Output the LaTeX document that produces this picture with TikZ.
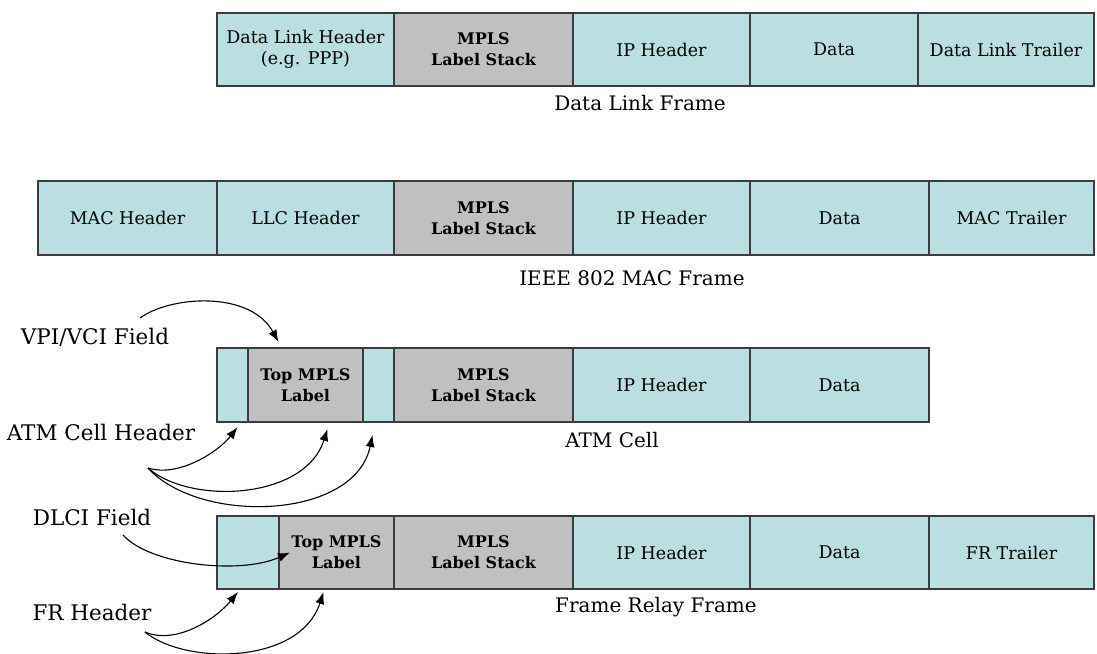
\documentclass[tikz,border=0pt]{standalone}
\usepackage{fontspec}
\setmainfont{DejaVu Serif}
\usepackage{tikz}
\usetikzlibrary{arrows.meta,positioning,calc}
\definecolor{fieldcyan}{RGB}{186,223,227}
\definecolor{stackgray}{RGB}{192,192,192}
\definecolor{framegray}{RGB}{60,60,60}

\begin{document}
\begin{tikzpicture}[x=1pt, y=-1pt,
    field/.style={draw=framegray, fill=fieldcyan, line width=1.2pt,
                  minimum height=73pt, inner sep=0pt, outer sep=0pt,
                  align=center, font=\fontsize{17.5}{21}\selectfont},
    stack/.style={field, fill=stackgray,
                  font=\fontsize{16}{21}\selectfont\bfseries},
    caption/.style={font=\fontsize{20}{24}\selectfont},
    side/.style={font=\fontsize{21.5}{25}\selectfont},
    arrow/.style={-{Latex[length=12pt,width=9pt]}, line width=1.1pt}
  ]
  \useasboundingbox (0,0) rectangle (1097,653);

  % Data link frame
  \node[field, minimum width=177, anchor=west] (dlh) at (217,49.5) {Data Link Header\\(e.g. PPP)};
  \node[stack, minimum width=179, right=0pt of dlh] (dlstack) {MPLS\\Label Stack};
  \node[field, minimum width=177, right=0pt of dlstack] (dlip) {IP Header};
  \node[field, minimum width=168, right=0pt of dlip] (dldata) {Data};
  \node[field, minimum width=176, right=0pt of dldata] (dltrail) {Data Link Trailer};
  \node[caption] (dlcap) at (640,103) {Data Link Frame};

  % IEEE 802 MAC frame
  \node[field, minimum width=179, minimum height=74, anchor=west] (mach) at (38,218) {MAC Header};
  \node[field, minimum width=177, minimum height=74, right=0pt of mach] (llch) {LLC Header};
  \node[stack, minimum width=179, minimum height=74, right=0pt of llch] (macstack) {MPLS\\Label Stack};
  \node[field, minimum width=177, minimum height=74, right=0pt of macstack] (macip) {IP Header};
  \node[field, minimum width=179, minimum height=74, right=0pt of macip] (macdata) {Data};
  \node[field, minimum width=165, minimum height=74, right=0pt of macdata] (mactrail) {MAC Trailer};
  \node[caption] (maccap) at (632,278) {IEEE 802 MAC Frame};

  % ATM cell
  \node[field, minimum width=31, minimum height=74, anchor=west] (atmh) at (217,385) {};
  \node[stack, minimum width=115, minimum height=74, right=0pt of atmh] (atmtop) {Top MPLS\\Label};
  \node[field, minimum width=31, minimum height=74, right=0pt of atmtop] (atmh2) {};
  \node[stack, minimum width=179, minimum height=74, right=0pt of atmh2] (atmstack) {MPLS\\Label Stack};
  \node[field, minimum width=177, minimum height=74, right=0pt of atmstack] (atmip) {IP Header};
  \node[field, minimum width=179, minimum height=74, right=0pt of atmip] (atmdata) {Data};
  \node[caption] (atmcap) at (612,440) {ATM Cell};

  % Frame relay frame
  \node[field, minimum width=62, anchor=west] (frh) at (217,552.5) {};
  \node[stack, minimum width=115, right=0pt of frh] (frtop) {Top MPLS\\Label};
  \node[stack, minimum width=179, right=0pt of frtop] (frstack) {MPLS\\Label Stack};
  \node[field, minimum width=177, right=0pt of frstack] (frip) {IP Header};
  \node[field, minimum width=179, right=0pt of frip] (frdata) {Data};
  \node[field, minimum width=165, right=0pt of frdata] (frtrail) {FR Trailer};
  \node[caption] (frcap) at (656,607) {Frame Relay Frame};

  % Side labels
  \node[side] (vpi)   at (95,337)  {VPI/VCI Field};
  \node[side] (atmhd) at (101,432) {ATM Cell Header};
  \node[side] (dlci)  at (92,517)  {DLCI Field};
  \node[side] (frhd)  at (92,612)  {FR Header};

  % Arrow ends
  \coordinate (vpifrom) at (140,318);
  \coordinate (atmfrom) at (148,468);
  \coordinate (dlcifrom) at (123,535);
  \coordinate (frfrom) at (145,632);

  % VPI/VCI -> top label
  \draw[arrow] (vpifrom) .. controls (170,296) and (250,290) .. ($(atmtop.north)+(-27,-6)$);

  % ATM cell header -> header parts
  \draw[arrow] (atmfrom) .. controls (180,478) and (220,450) .. ($(atmh.south)+(5,5)$);
  \draw[arrow] (atmfrom) .. controls (190,505) and (305,500) .. ($(atmtop.south)+(22,7)$);
  \draw[arrow] (atmfrom) .. controls (200,525) and (355,520) .. ($(atmh2.south)+(-6,13)$);

  % DLCI -> top label
  \draw[arrow] (dlcifrom) .. controls (150,565) and (240,575) .. ($(frtop.west)+(11,0)$);

  % FR header -> header parts
  \draw[arrow] (frfrom) .. controls (175,645) and (215,620) .. ($(frh.south)+(-10,3)$);
  \draw[arrow] (frfrom) .. controls (185,665) and (300,665) .. ($(frtop.south)+(-13,3)$);
\end{tikzpicture}
\end{document}
